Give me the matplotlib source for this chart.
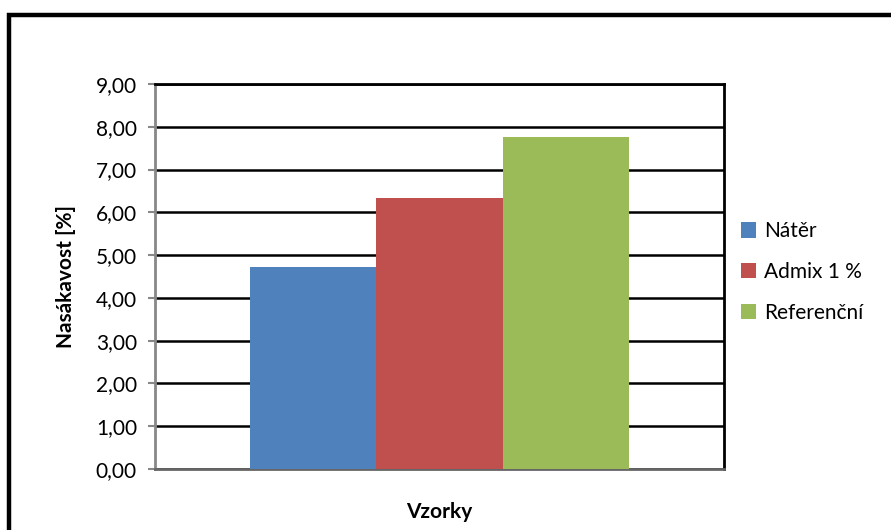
import matplotlib.pyplot as plt
from matplotlib.patches import Rectangle

series = ["Nátěr", "Admix 1 %", "Referenční"]
values = [4.72, 6.33, 7.77]
colors = ["#4F81BD", "#C0504D", "#9BBB59"]
yticks = [0, 1, 2, 3, 4, 5, 6, 7, 8, 9]
ylabels = ["%.2f" % t for t in yticks]
ylabels = [s.replace(".", ",") for s in ylabels]

plt.rcParams['font.family'] = ['Lato', 'DejaVu Sans']

W, H = 891, 530
fig = plt.figure(figsize=(W / 100, H / 100), dpi=100)
ax = fig.add_axes([155 / W, 1 - 469 / H, (724 - 155) / W, (469 - 84) / H])

# outer chart frame
fig.patches.append(Rectangle((9 / W, -0.05), 1.1, 1 - 15 / H + 0.05, transform=fig.transFigure,
                             fill=False, edgecolor="black", linewidth=3.2, clip_on=False))

bw = 0.2226
for i, (name, v, c) in enumerate(zip(series, values, colors)):
    ax.bar((i - 1) * bw, v, width=bw, color=c, label=name, zorder=3)

ax.set_xlim(-0.5, 0.5)
ax.set_ylim(0, 9)
ax.set_yticks(yticks)
ax.set_yticklabels(ylabels, fontsize=15)
ax.set_xticks([])
ax.yaxis.grid(True, color="black", linewidth=1.8, zorder=0)
ax.set_axisbelow(True)
ax.tick_params(axis="y", length=5, width=1.5, color="#888888", pad=8)

for s in ["top", "right"]:
    ax.spines[s].set_color("black")
    ax.spines[s].set_linewidth(2)
ax.spines["left"].set_color("#888888")
ax.spines["left"].set_linewidth(2)
ax.spines["bottom"].set_color("#666666")
ax.spines["bottom"].set_linewidth(2)

ax.set_ylabel("Nasákavost [%]", fontsize=15, fontweight="bold", labelpad=14)
ax.set_xlabel("Vzorky", fontsize=15, fontweight="bold", labelpad=24)

ax.legend(loc="center left", bbox_to_anchor=(722 / W, 1 - 272 / H), bbox_transform=fig.transFigure,
          frameon=False, fontsize=15, handlelength=0.75, handleheight=0.75, handletextpad=0.35,
          labelspacing=1.0)

fig.savefig("out.png", dpi=100)
